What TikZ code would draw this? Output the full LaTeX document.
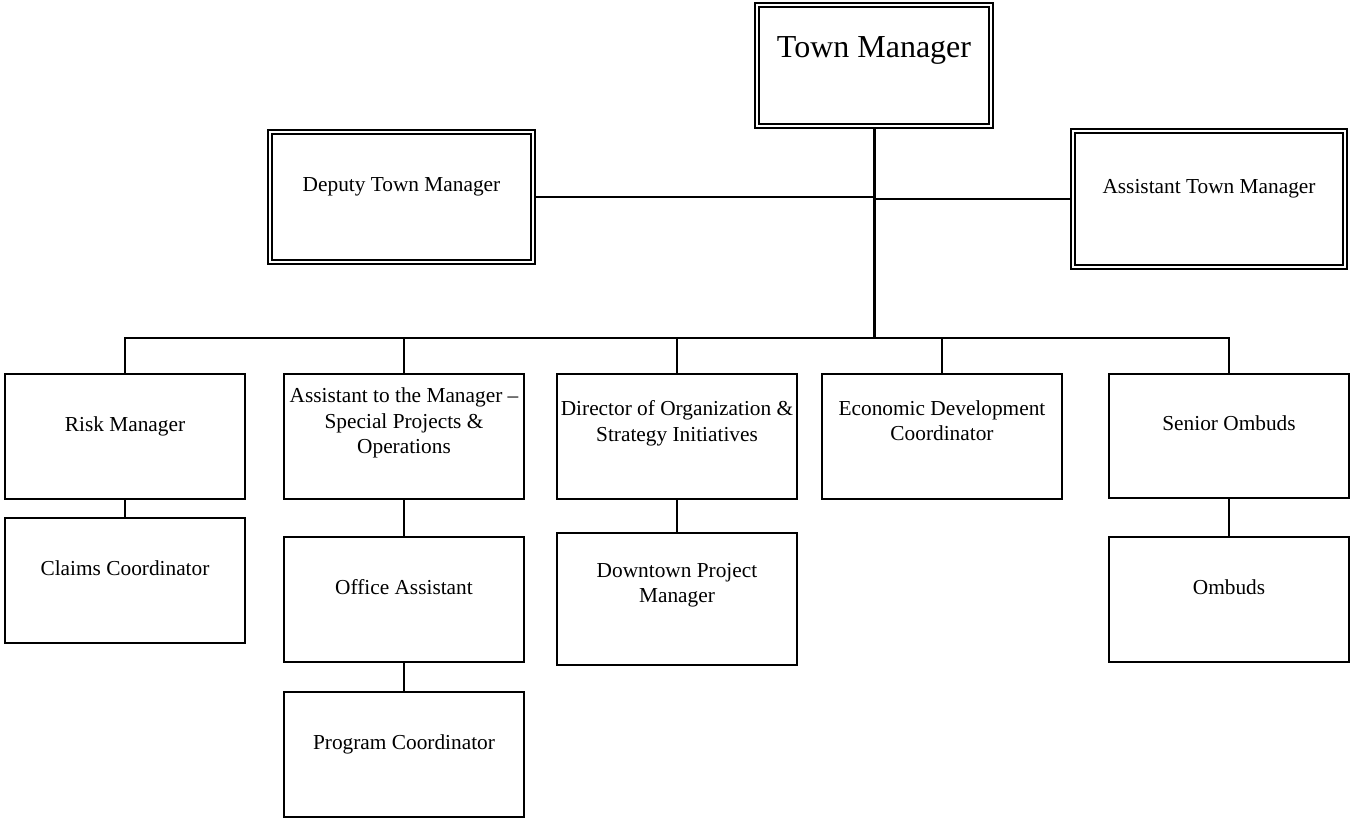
\documentclass[tikz,border=0pt]{standalone}
\usepackage{fontspec}
\setmainfont{Liberation Serif}
\newcommand\lowfont{\fontsize{21.33}{25.6}\selectfont}
\newcommand\topfont{\fontsize{32}{38.4}\selectfont}
\begin{document}
\begin{tikzpicture}[x=1pt,y=-1pt,
 box/.style={draw, line width=1.5pt, inner sep=0pt, minimum width=240pt, minimum height=125pt},
 dbox/.style={draw, double, double distance=2.6pt, line width=1.3pt, inner sep=0pt},
 txt/.style={font=\lowfont, align=center, inner sep=0pt, anchor=north, execute at begin node=\strut},
 conn/.style={line width=1.6pt},
 trunk/.style={line width=3pt}]
\useasboundingbox (0,0) rectangle (1351,818);

% top level
\node[dbox, minimum width=234pt, minimum height=121pt] (tm) at (874,65.5) {};
\node[txt, font=\topfont] (tmt) at ([yshift=35.4pt]tm.center) {Town Manager};
\node[dbox, minimum width=263pt, minimum height=130pt] (dep) at (401.5,197) {};
\node[txt] (dept) at ([yshift=23.4pt]dep.center) {Deputy Town Manager};
\node[dbox, minimum width=272pt, minimum height=136pt] (atm) at (1209,199) {};
\node[txt] (atmt) at ([yshift=23.9pt]atm.center) {Assistant Town Manager};

% lower boxes
\node[box] (rm) at (125,436.5) {};
\node[txt] (rmt) at ([yshift=23.4pt]rm.center) {Risk Manager};
\node[box] (cc) at (125,580.5) {};
\node[txt] (cct) at ([yshift=23.4pt]cc.center) {Claims Coordinator};
\node[box] (am) at (404,436.5) {};
\node[txt] (amt) at ([yshift=49pt]am.center) {Assistant to the Manager –\\Special Projects \&\\Operations};
\node[box] (oa) at (404,599.5) {};
\node[txt] (oat) at ([yshift=23.4pt]oa.center) {Office Assistant};
\node[box] (pc) at (404,754.5) {};
\node[txt] (pct) at ([yshift=23.4pt]pc.center) {Program Coordinator};
\node[box] (dir) at (677,436.5) {};
\node[txt] (dirt) at ([yshift=36.2pt]dir.center) {Director of Organization \&\\Strategy Initiatives};
\node[box, minimum height=132pt] (dpm) at (677,599) {};
\node[txt] (dpmt) at ([yshift=36.2pt]dpm.center) {Downtown Project\\Manager};
\node[box] (edc) at (942,436.5) {};
\node[txt] (edct) at ([yshift=36.2pt]edc.center) {Economic Development\\Coordinator};
\node[box, minimum height=124pt] (so) at (1229,436) {};
\node[txt] (sot) at ([yshift=23.4pt]so.center) {Senior Ombuds};
\node[box] (om) at (1229,599.5) {};
\node[txt] (omt) at ([yshift=23.4pt]om.center) {Ombuds};

% connectors
\coordinate (bus) at (874,338);
\draw[trunk] ([yshift=-2.6pt]tm.south) -- (bus);
\draw[conn] ([xshift=2.6pt]dep.east) -- (dep.east -| tm.south);
\draw[conn] ([xshift=-2.6pt]atm.west) -- (atm.west -| tm.south);
\foreach \n in {rm,am,dir,edc,so} \draw[conn] (\n.north) |- (bus);
\draw[conn] (rm.south) -- (cc.north);
\draw[conn] (am.south) -- (oa.north);
\draw[conn] (oa.south) -- (pc.north);
\draw[conn] (dir.south) -- (dpm.north);
\draw[conn] (so.south) -- (om.north);
\end{tikzpicture}
\end{document}
